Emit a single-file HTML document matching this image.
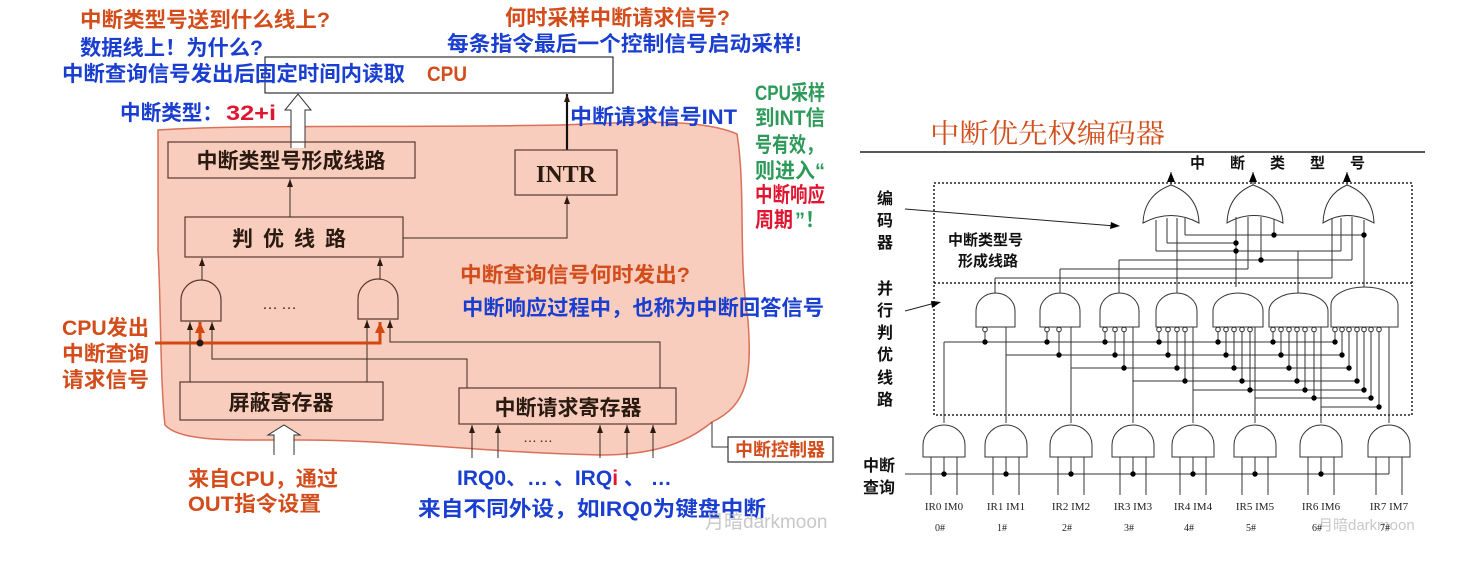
<!DOCTYPE html>
<html><head><meta charset="utf-8">
<style>
html,body{margin:0;padding:0;background:#fff;}
svg{display:block;}
.cj{font-family:"Liberation Sans","Noto Sans CJK SC",sans-serif;font-weight:bold;}
.cn{font-family:"Liberation Sans","Noto Sans CJK SC",sans-serif;}
.sf{font-family:"Liberation Serif","Noto Serif CJK SC",serif;}
</style></head><body>
<svg id="s" width="1478" height="565" viewBox="0 0 1478 565" xmlns="http://www.w3.org/2000/svg">
<defs>
<marker id="ah" markerWidth="8" markerHeight="8" refX="8" refY="4" orient="auto" markerUnits="userSpaceOnUse"><path d="M0,1 L8,4 L0,7 Z" fill="#2a1a10"/></marker>
<marker id="ao" markerWidth="12" markerHeight="12" refX="11" refY="6" orient="auto" markerUnits="userSpaceOnUse"><path d="M0,1 L11,6 L0,11 Z" fill="#d4470f"/></marker>
<marker id="ab" markerWidth="10" markerHeight="10" refX="10" refY="5" orient="auto" markerUnits="userSpaceOnUse"><path d="M0,1 L10,5 L0,9 Z" fill="#000"/></marker>
</defs>

<path d="M158,130 C250,124 400,128 560,125 C640,122 700,118 737,134 C746,190 738,260 748,320 C752,375 748,405 712,422 C690,440 660,455 600,455 C470,452 400,440 300,440 C230,440 180,442 165,425 C160,380 161,300 158,250 Z" fill="#f8cdbd" stroke="#d9705a" stroke-width="1.5"/>

<rect x="265" y="57" width="348" height="36" fill="#fff" stroke="#333" stroke-width="1.2"/>
<path d="M291,148 V110 H285 L298,94 L311,110 H305 V148" fill="#fff" stroke="#333" stroke-width="1"/>
<line x1="567" y1="150" x2="567" y2="94" stroke="#111" stroke-width="2.2" marker-end="url(#ah)"/>

<g fill="none" stroke="#5a3a30" stroke-width="1.2">
<rect x="168" y="142" width="247" height="36"/>
<rect x="515" y="150" width="102" height="45"/>
<rect x="185" y="217" width="218" height="40"/>
<rect x="180" y="382" width="203" height="38"/>
<rect x="459" y="388" width="217" height="36"/>
<path d="M181,321 V300 A20 20 0 0 1 221,300 V321 Z"/>
<path d="M358,319 V299 A20 20 0 0 1 398,299 V319 Z"/>
</g>
<g stroke="#3a2a20" stroke-width="1" fill="none">
<line x1="290" y1="217" x2="290" y2="179" marker-end="url(#ah)"/>
<polyline points="403,238 567,238 567,196" marker-end="url(#ah)"/>
<line x1="202" y1="280" x2="202" y2="258" marker-end="url(#ah)"/>
<line x1="380" y1="279" x2="380" y2="258" marker-end="url(#ah)"/>
<line x1="190" y1="382" x2="190" y2="322" marker-end="url(#ah)"/>
<polyline points="467,388 467,359 212,359 212,322" marker-end="url(#ah)"/>
<line x1="367" y1="382" x2="367" y2="320" marker-end="url(#ah)"/>
<polyline points="660,388 660,342 390,342 390,320" marker-end="url(#ah)"/>
<line x1="472" y1="458" x2="472" y2="425" marker-end="url(#ah)"/>
<line x1="498" y1="458" x2="498" y2="425" marker-end="url(#ah)"/>
<line x1="600" y1="458" x2="600" y2="425" marker-end="url(#ah)"/>
<line x1="627" y1="458" x2="627" y2="425" marker-end="url(#ah)"/>
<line x1="653" y1="458" x2="653" y2="425" marker-end="url(#ah)"/>
<polyline points="712,422 712,447 728,447" stroke="#333"/>
</g>
<g stroke="#d4470f" stroke-width="3" fill="none">
<polyline points="155,343 380,343 380,322" marker-end="url(#ao)"/>
<line x1="200" y1="343" x2="200" y2="322" marker-end="url(#ao)"/>
</g>
<circle cx="200" cy="343" r="3.5" fill="#2a1a10"/>
<path d="M274,455 V435 H268 L284,425 L300,435 H294 V455" fill="#fff" stroke="#333" stroke-width="1"/>
<text x="262" y="309" class="cn" font-size="16" fill="#3a2a20" letter-spacing="3">……</text>
<text x="523" y="442" class="cn" font-size="14" fill="#3a2a20" letter-spacing="2">……</text>

<text x="291" y="168" class="cn" font-size="21" fill="#2a1a10" text-anchor="middle" font-weight="bold">中断类型号形成线路</text>
<text x="566" y="182" class="sf" font-size="24" fill="#2a1a10" text-anchor="middle" font-weight="bold">INTR</text>
<text x="294" y="246" class="cn" font-size="21" fill="#2a1a10" text-anchor="middle" font-weight="bold" letter-spacing="10">判优线路</text>
<text x="281" y="410" class="cn" font-size="21" fill="#2a1a10" text-anchor="middle" font-weight="bold">屏蔽寄存器</text>
<text x="568" y="415" class="cn" font-size="21" fill="#2a1a10" text-anchor="middle" font-weight="bold">中断请求寄存器</text>
<rect x="728" y="437" width="105" height="25" fill="#fff" stroke="#333" stroke-width="1.2"/>
<text x="780" y="456" class="cn" font-size="18" fill="#d24d1b" text-anchor="middle" font-weight="bold">中断控制器</text>

<g class="cj" font-size="21" lengthAdjust="spacingAndGlyphs">
<text x="80" y="27" fill="#d24d1b" textLength="250" lengthAdjust="spacingAndGlyphs">中断类型号送到什么线上?</text>
<text x="80" y="55" fill="#1a3fd0" textLength="183" lengthAdjust="spacingAndGlyphs">数据线上！为什么?</text>
<text x="62" y="81" fill="#1a3fd0" textLength="343" lengthAdjust="spacingAndGlyphs">中断查询信号发出后固定时间内读取</text>
<text x="427" y="81" fill="#d24d1b" textLength="40" lengthAdjust="spacingAndGlyphs">CPU</text>
<text x="505" y="25" fill="#d24d1b" textLength="225" lengthAdjust="spacingAndGlyphs">何时采样中断请求信号?</text>
<text x="447" y="51" fill="#1a3fd0" textLength="355" lengthAdjust="spacingAndGlyphs">每条指令最后一个控制信号启动采样!</text>
<text x="120" y="120" fill="#1a3fd0" textLength="103" lengthAdjust="spacingAndGlyphs">中断类型：</text>
<text x="226" y="120" fill="#e01530" textLength="50" lengthAdjust="spacingAndGlyphs">32+i</text>
<text x="570" y="124" fill="#1a3fd0" textLength="167" lengthAdjust="spacingAndGlyphs">中断请求信号INT</text>
<text x="755" y="100" fill="#2e9a5a" textLength="70" lengthAdjust="spacingAndGlyphs">CPU采样</text>
<text x="755" y="125" fill="#2e9a5a" textLength="70" lengthAdjust="spacingAndGlyphs">到INT信</text>
<text x="755" y="152" fill="#2e9a5a" textLength="68" lengthAdjust="spacingAndGlyphs">号有效，</text>
<text x="755" y="178" fill="#2e9a5a" textLength="70" lengthAdjust="spacingAndGlyphs">则进入“</text>
<text x="755" y="202" fill="#e01530" textLength="70" lengthAdjust="spacingAndGlyphs">中断响应</text>
<text x="755" y="227" fill="#e01530" textLength="38" lengthAdjust="spacingAndGlyphs">周期</text>
<text x="795" y="227" fill="#2e9a5a" textLength="30" lengthAdjust="spacingAndGlyphs">”！</text>
<text x="460" y="282" fill="#d24d1b" textLength="230" lengthAdjust="spacingAndGlyphs">中断查询信号何时发出?</text>
<text x="462" y="315" fill="#1a3fd0" textLength="362" lengthAdjust="spacingAndGlyphs">中断响应过程中，也称为中断回答信号</text>
<text x="62" y="335" fill="#d24d1b" textLength="87" lengthAdjust="spacingAndGlyphs">CPU发出</text>
<text x="62" y="361" fill="#d24d1b" textLength="87" lengthAdjust="spacingAndGlyphs">中断查询</text>
<text x="62" y="387" fill="#d24d1b" textLength="87" lengthAdjust="spacingAndGlyphs">请求信号</text>
<text x="188" y="486" fill="#d24d1b" textLength="150" lengthAdjust="spacingAndGlyphs">来自CPU，通过</text>
<text x="188" y="511" fill="#d24d1b" textLength="133" lengthAdjust="spacingAndGlyphs">OUT指令设置</text>
<text x="457" y="485" fill="#1a3fd0">IRQ0、… 、IRQ<tspan fill="#e01530">i</tspan> 、 …</text>
<text x="418" y="516" fill="#1a3fd0" textLength="348" lengthAdjust="spacingAndGlyphs">来自不同外设，如IRQ0为键盘中断</text>
</g>
<text x="705" y="528" class="cn" font-size="19" fill="#c8c8c8">月暗darkmoon</text>
<text x="1318" y="530" class="cn" font-size="15" fill="#c8c8c8">月暗darkmoon</text>

<text x="930" y="143" font-family="'Liberation Serif','Noto Serif CJK SC',serif" font-size="27" fill="#d0501e" textLength="235" lengthAdjust="spacingAndGlyphs">中断优先权编码器</text>
<line x1="860" y1="152" x2="1425" y2="152" stroke="#222" stroke-width="1.5"/>
<text x="1190" y="168" class="cj" font-size="15" fill="#111" textLength="175">中 断 类 型 号</text>
<rect x="934" y="183" width="478" height="232" fill="none" stroke="#222" stroke-width="1.5" stroke-dasharray="2,2"/>
<line x1="934" y1="283" x2="1412" y2="283" stroke="#222" stroke-width="1.5" stroke-dasharray="2,2"/>
<g class="cj" font-size="16" fill="#111">
<text x="877" y="204">编</text><text x="877" y="226">码</text><text x="877" y="248">器</text>
<text x="877" y="294">并</text><text x="877" y="316">行</text><text x="877" y="338">判</text><text x="877" y="360">优</text><text x="877" y="383">线</text><text x="877" y="405">路</text>
<text x="948" y="245" font-size="15">中断类型号</text>
<text x="958" y="266" font-size="15">形成线路</text>
<text x="863" y="471" font-size="16">中断</text>
<text x="863" y="493" font-size="16">查询</text>
</g>
<g stroke="#222" stroke-width="1" fill="none">
<line x1="905" y1="209" x2="1115" y2="226"/>
<line x1="905" y1="311" x2="935" y2="303"/>
</g>
<path d="M1120,226 L1110,229 L1111,222 Z" fill="#000"/>
<path d="M941,302 L932,308 L931,301 Z" fill="#000"/>
<g id="R" stroke="#333" stroke-width="1" fill="none"></g>
<g id="D" fill="#000"></g>
</svg>
<script>
(function(){
var R=document.getElementById('R'),D=document.getElementById('D'),NS='http://www.w3.org/2000/svg',S=document.getElementById('s');
function el(p,t,a){var e=document.createElementNS(NS,t);for(var k in a)e.setAttribute(k,a[k]);p.appendChild(e);return e;}
function L(x1,y1,x2,y2,m){var a={x1:x1,y1:y1,x2:x2,y2:y2};if(m)a['marker-end']=m;el(R,'line',a);}
function dot(x,y){el(D,'circle',{cx:x,cy:y,r:2.7});}
var ors=[[1143,1199,1171],[1227,1283,1253],[1323,1374,1347]];
ors.forEach(function(o){var a=o[0],b=o[1],c=o[2];
el(R,'path',{d:'M'+a+',223 Q'+c+',208 '+b+',223 Q'+(b-1)+',195 '+c+',185 Q'+(a+1)+',195 '+a+',223 Z',fill:'#fff'});
L(c,185,c,172,'url(#ab)');});
var gb=[[976,1015],[1040,1080],[1100,1139],[1156,1197],[1213,1263],[1269,1328],[1331,1398]];
var bub=[[985],[1047,1059],[1105,1115,1124],[1159,1168,1177,1185],[1218,1226,1234,1242,1250],[1273,1281,1289,1297,1305,1314],[1335,1342,1349,1357,1364,1371,1379]];
var xk=[944,1006,1071,1133,1193,1255,1321,1389];
var yk=[342,355,368,381,390,398,407];
gb.forEach(function(g,j){var a=g[0],b=g[1],w=(b-a)/2,top=j==6?287:293;
el(R,'path',{d:'M'+a+',327 V'+(top+18)+' A'+w+' 18 0 0 1 '+b+','+(top+18)+' V327 Z',fill:'#fff'});
bub[j].forEach(function(bx,k){el(R,'circle',{cx:bx,cy:329.5,r:2.3,fill:'#fff'});L(bx,332,bx,yk[k]);dot(bx,yk[k]);});});
for(var k=0;k<7;k++){L(xk[k],yk[k],bub[6][k],yk[k]);}
L(xk[0],423,xk[0],342);
for(var k=1;k<8;k++)L(xk[k],423,xk[k],327);
var gc=[995,1060,1119,1177,1238,1298,1364];
L(gc[0],293,gc[0],278);L(gc[0],278,1332,278);L(1332,278,1332,218);
L(gc[1],293,gc[1],269);L(gc[1],269,1248,269);L(1248,269,1248,217);
L(gc[2],293,gc[2],260);L(gc[2],260,1352,260);L(1352,260,1352,217);L(1261,260,1261,217);dot(1261,260);
L(1177,293,1177,218);
L(1236,287,1236,217);L(1167,243,1236,243);L(1167,243,1167,218);dot(1236,243);
L(1156,251,1341,251);L(1156,251,1156,220);L(1341,251,1341,218);dot(1236,251);L(1298,251,1298,293);
L(1185,235,1364,235);L(1185,235,1185,218);L(1274,235,1274,219);dot(1274,235);L(1364,220,1364,287);dot(1364,235);
xk.forEach(function(c,i){
el(R,'path',{d:'M'+(c-21)+',457 V445 A21 20 0 0 1 '+(c+21)+',445 V457 Z',fill:'#fff'});
L(c-13,457,c-13,495);L(c+13,457,c+13,495);L(c,457,c,474);if(i<7)dot(c,474);
var t=el(S,'text',{x:c,y:510,'text-anchor':'middle','font-size':11,'font-family':'Liberation Serif,serif',fill:'#222'});t.textContent='IR'+i+' IM'+i;
var t2=el(S,'text',{x:c-4,y:531,'text-anchor':'middle','font-size':10,'font-family':'Liberation Serif,serif',fill:'#222'});t2.textContent=i+'#';
});
L(905,474,1389,474);
})();
</script>
</body></html>
